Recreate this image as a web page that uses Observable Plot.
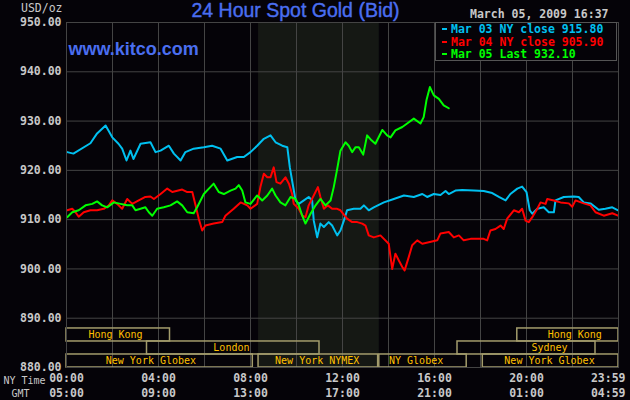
<!DOCTYPE html>
<html>
<head>
<meta charset="utf-8">
<script src="https://cdn.jsdelivr.net/npm/d3@7"></script>
<script src="https://cdn.jsdelivr.net/npm/@observablehq/plot@0.6"></script>
<style>
  body { margin: 0; background: #050308; }
  #wrap { position: relative; width: 630px; height: 400px; }
  #legend {
    position: absolute; left: 435px; top: 22px; width: 182px; height: 39px;
    border: 1px solid #555; background: #050308;
    font: bold 11.5px "DejaVu Sans Mono", monospace; line-height: 12.6px;
    padding: 0 0 0 6px; box-sizing: border-box; white-space: pre;
  }
  #legend i { display: inline-block; width: 5px; height: 2px; margin: 0 4px 3px 0; }
</style>
</head>
<body>
<div id="wrap"></div>
<script>
const mono = '"DejaVu Sans Mono", monospace';
const sans = '"Liberation Sans", Arial, sans-serif';

// axes
const priceTicks = [880, 890, 900, 910, 920, 930, 940, 950];
const gridHours = [0, 2, 4, 6, 8, 10, 12, 14, 16, 18, 20, 22, 24];
const nyTicks = [0, 4, 8, 12, 16, 20];
const nyLabels = ["00:00", "04:00", "08:00", "12:00", "16:00", "20:00"];
const gmtLabels = ["05:00", "09:00", "13:00", "17:00", "21:00", "01:00"];
const endLabels = ["23:59", "04:59"];

// series (hour of NY day, USD/oz)
const seriesNames = ["Mar 03 NY close 915.80", "Mar 04 NY close 905.90", "Mar 05 Last 932.10"];
const seriesColors = ["#00c0f0", "#ff0000", "#00ff00"];

const mar03Hours = [0.03,0.30,1.04,1.33,1.70,1.99,2.26,2.42,2.61,2.78,
  2.91,3.22,3.65,3.87,4.09,4.45,4.67,4.96,5.17,5.53,
  5.97,6.33,6.70,6.99,7.42,7.71,8.00,8.29,8.58,8.87,
  9.09,9.38,9.60,9.71,9.81,9.96,10.10,10.32,10.53,10.68,
  10.75,10.90,11.04,11.19,11.40,11.55,11.77,11.91,12.06,12.20,
  12.49,12.78,12.93,13.14,13.36,13.80,14.23,14.67,15.10,15.47,
  15.68,15.97,16.26,16.48,16.62,16.91,17.20,17.71,18.14,18.51,
  18.80,19.09,19.30,19.60,19.81,20.00,20.14,20.25,20.47,20.75,
  20.97,21.19,21.26,21.62,22.06,22.27,22.49,22.78,23.14,23.43,
  23.73,23.98];
const mar03Price = [923.7,923.4,925.5,927.5,929.1,926.7,925.4,924.4,922.0,924.0,
  922.3,925.4,925.7,923.7,924.0,925.0,923.4,922.0,923.7,924.4,
  924.7,925.0,924.4,922.0,922.7,922.7,923.7,925.0,926.4,927.1,
  925.7,925.0,924.7,920.6,917.9,913.9,913.2,913.9,914.6,913.9,
  909.8,906.4,909.2,908.5,909.5,908.8,906.8,907.8,909.8,911.9,
  912.2,912.2,912.9,911.9,912.5,913.5,914.2,914.9,914.6,915.2,
  914.6,915.2,915.0,915.8,915.2,915.9,916.0,915.9,915.8,915.4,
  914.6,913.9,915.2,916.3,916.7,915.6,911.9,911.2,912.2,912.5,
  911.5,911.5,913.9,914.6,914.7,914.6,913.5,913.3,912.0,912.2,
  912.5,911.9];

const mar04Hours = [0.03,0.25,0.39,0.53,0.75,1.04,1.33,1.62,1.84,1.99,
  2.20,2.42,2.64,2.86,3.14,3.43,3.65,3.80,4.09,4.38,
  4.60,5.03,5.25,5.47,5.61,5.75,5.90,6.04,6.40,6.77,
  6.91,7.27,7.57,7.86,8.00,8.29,8.43,8.58,8.73,8.87,
  9.01,9.13,9.30,9.52,9.67,9.81,9.88,10.10,10.25,10.39,
  10.53,10.75,10.93,11.04,11.19,11.36,11.55,11.77,11.91,12.20,
  12.42,12.64,12.86,13.00,13.14,13.36,13.65,13.80,14.01,14.16,
  14.30,14.45,14.60,14.70,14.88,15.03,15.25,15.47,15.75,16.12,
  16.26,16.62,16.84,17.06,17.27,17.57,18.14,18.29,18.43,18.65,
  18.87,19.01,19.16,19.45,19.67,19.81,19.96,20.10,20.25,20.47,
  20.61,20.83,20.90,21.19,21.48,21.84,21.99,22.13,22.49,22.78,
  23.00,23.36,23.73,23.98];
const mar04Price = [911.9,912.2,911.5,910.6,911.5,911.9,911.9,912.2,912.9,913.9,
  913.2,912.2,914.2,913.2,913.9,914.6,914.7,914.2,915.2,916.3,
  915.6,916.1,915.6,915.6,912.9,910.2,907.8,908.8,909.2,909.5,
  910.8,912.2,913.5,912.9,912.2,913.2,916.6,919.3,918.6,918.6,
  920.6,917.6,917.3,918.6,917.3,915.2,913.2,912.2,910.8,910.5,
  912.9,914.9,916.6,914.6,912.2,912.9,912.2,912.2,911.9,910.2,
  909.5,909.5,909.2,908.8,906.8,906.4,906.8,906.1,905.1,900.0,
  903.1,901.7,900.4,899.7,902.4,904.8,905.8,905.1,905.4,905.8,
  907.2,907.5,906.4,906.8,905.8,906.1,906.1,905.8,907.8,908.1,
  908.8,908.1,910.2,911.9,911.5,912.2,909.8,909.5,910.5,912.2,
  913.5,913.2,914.2,913.9,913.5,913.3,912.6,913.9,913.3,912.9,
  911.5,910.8,911.3,910.8];

const mar05Hours = [0.03,0.25,0.53,0.83,1.12,1.33,1.55,1.77,2.06,2.35,
  2.64,2.86,3.00,3.22,3.43,3.58,3.73,3.94,4.23,4.52,
  4.81,5.03,5.25,5.53,5.68,5.97,6.19,6.40,6.62,6.84,
  7.13,7.35,7.49,7.64,7.78,8.00,8.29,8.51,8.73,8.94,
  9.09,9.30,9.52,9.74,9.96,10.10,10.25,10.39,10.61,10.83,
  11.04,11.26,11.48,11.62,11.77,11.91,12.13,12.27,12.42,12.57,
  12.71,12.90,13.07,13.26,13.43,13.73,13.94,14.09,14.30,14.60,
  14.81,15.10,15.39,15.53,15.65,15.80,15.97,16.19,16.40,16.62];
const mar05Price = [910.5,911.5,911.9,912.9,913.2,913.7,912.9,912.5,913.5,913.2,
  912.9,912.9,911.9,912.2,912.5,911.5,910.8,912.2,912.5,912.9,
  913.7,912.9,911.5,911.3,912.5,915.2,916.3,917.3,915.6,915.2,
  915.9,916.3,917.0,915.9,913.5,913.2,914.9,913.9,914.9,916.3,
  914.9,913.5,912.9,914.6,914.2,912.9,910.8,909.2,911.2,912.9,
  914.2,912.9,913.9,916.6,920.3,924.0,925.7,925.0,923.7,924.7,
  924.7,923.2,927.1,926.1,925.4,928.2,927.1,926.7,928.1,928.8,
  929.5,930.5,929.5,930.8,934.2,936.9,935.2,934.5,933.2,932.6];

// trading sessions (row 0 = bottom)
const sessionName = ["Hong Kong", "Hong Kong", "London", "Sydney",
  "New York Globex", "New York NYMEX", "NY Globex", "New York Globex"];
const sessionRow = [2, 2, 1, 1, 0, 0, 0, 0];
const sessionOpen = [0, 19.6, 3.5, 17, 0, 8.35, 13.6, 18.1];
const sessionClose = [4.5, 24, 11, 23, 8.1, 13.55, 17.4, 24];
const sessionLabelAt = [2.13, 22.1, 7.17, 21.0, 3.67, 10.9, 15.2, 21.0];
const rowStep = 2.64;
const nymexPit = [{open: 8.35, close: 13.6}];

const prices = [
  [mar03Hours, mar03Price], [mar04Hours, mar04Price], [mar05Hours, mar05Price]
].flatMap(([hs, ps], k) => hs.map((h, i) => ({series: seriesNames[k], hour: h, price: ps[i]})));

const sessions = sessionName.map((name, i) => ({
  name, row: sessionRow[i], open: sessionOpen[i], close: sessionClose[i], at: sessionLabelAt[i]
}));

const grey = "#c8c8c8";

const chart = Plot.plot({
  width: 630,
  height: 400,
  marginTop: 22,
  marginRight: 12,
  marginBottom: 33,
  marginLeft: 66,
  style: {background: "#050308", color: grey, fontFamily: mono, fontSize: "11.5px"},
  x: {domain: [0, 24], axis: null},
  y: {domain: [880, 950], label: null},
  color: {domain: seriesNames, range: seriesColors},
  marks: [
    Plot.rect(nymexPit, {x1: "open", x2: "close", fill: "#151814"}),
    Plot.ruleX(gridHours, {stroke: "#444"}),
    Plot.ruleY(priceTicks, {stroke: "#444"}),
    Plot.axisY(priceTicks, {label: null, tickSize: 0, tickPadding: 5, tickFormat: d3.format(".2f"),
      fontFamily: mono, fontSize: 11.5, fontWeight: "bold", fill: grey}),
    Plot.rect(sessions, {
      x1: "open", x2: "close",
      y1: d => 880 + d.row * rowStep, y2: d => 880 + (d.row + 1) * rowStep,
      fill: "none", stroke: "#a39c6c", strokeWidth: 1.5
    }),
    Plot.text(sessions, {
      x: "at", y: d => 880 + (d.row + 0.5) * rowStep, text: "name",
      fill: "#ffc000", fontFamily: mono, fontSize: 10
    }),
    Plot.line(prices, {x: "hour", y: "price", z: "series", stroke: "series", strokeWidth: 2}),
    // time axis, NY and GMT rows
    Plot.text(nyTicks, {x: d => d, text: (d, i) => nyLabels[i], frameAnchor: "bottom",
      lineAnchor: "middle", dy: 11, fontWeight: "bold", fill: grey}),
    Plot.text(nyTicks, {x: d => d, text: (d, i) => gmtLabels[i], frameAnchor: "bottom",
      lineAnchor: "middle", dy: 26, fontWeight: "bold", fill: grey}),
    Plot.text([24], {x: d => d, text: () => endLabels[0], frameAnchor: "bottom",
      lineAnchor: "middle", dy: 11, dx: 7, textAnchor: "end", fontWeight: "bold", fill: grey}),
    Plot.text([24], {x: d => d, text: () => endLabels[1], frameAnchor: "bottom",
      lineAnchor: "middle", dy: 26, dx: 7, textAnchor: "end", fontWeight: "bold", fill: grey}),
    Plot.text(["NY Time"], {text: d => d, frameAnchor: "bottom-left", lineAnchor: "middle",
      dx: -42, dy: 13, textAnchor: "middle", fontSize: 10, fill: grey}),
    Plot.text(["GMT"], {text: d => d, frameAnchor: "bottom-left", lineAnchor: "middle",
      dx: -46, dy: 26, textAnchor: "middle", fontSize: 10, fill: grey}),
    Plot.text(["USD/oz"], {text: d => d, frameAnchor: "top-left", lineAnchor: "middle",
      dx: -4, dy: -14, textAnchor: "end", fill: grey}),
    Plot.text(["March 05, 2009 16:37"], {text: d => d, frameAnchor: "top-right", lineAnchor: "middle",
      dx: -10, dy: -8, textAnchor: "end", fontWeight: "bold", fill: grey}),
    Plot.text(["24 Hour Spot Gold (Bid)"], {text: d => d, frameAnchor: "top", lineAnchor: "middle",
      dx: -47, dy: -12, fontFamily: sans, fontSize: 19.5, fill: "#4a6ef0",
      stroke: "#4a6ef0", strokeWidth: 0.4}),
    Plot.text(["www.kitco.com"], {text: d => d, frameAnchor: "top-left", lineAnchor: "middle",
      dx: 2, dy: 27, textAnchor: "start", fontFamily: sans, fontSize: 18, fontWeight: "bold", fill: "#4a6ef0"}),
    Plot.frame({stroke: "#444"})
  ]
});

const wrap = document.getElementById("wrap");
wrap.append(chart);

const legend = document.createElement("div");
legend.id = "legend";
legend.innerHTML = seriesNames
  .map((s, i) => `<div style="color:${seriesColors[i]}"><i style="background:${seriesColors[i]}"></i>${s}</div>`)
  .join("");
wrap.append(legend);
</script>
</body>
</html>
